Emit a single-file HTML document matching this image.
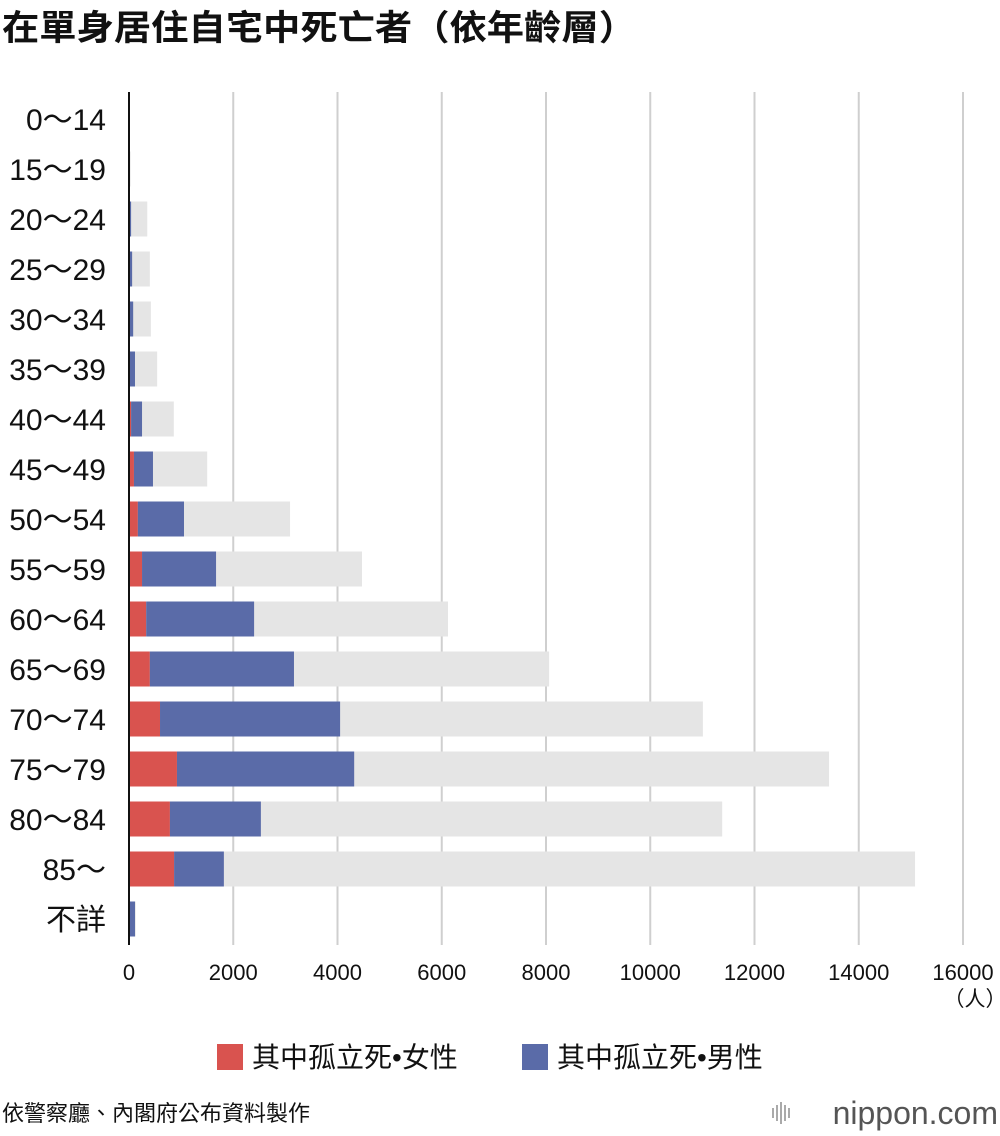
<!DOCTYPE html>
<html><head><meta charset="utf-8">
<style>
body{margin:0;background:#fff;font-family:"Liberation Sans","Noto Sans CJK TC",sans-serif;}
#wrap{position:relative;width:1000px;height:1136px;overflow:hidden;}
</style></head>
<body>
<div id="wrap">
<svg id="chart" width="1000" height="1136"></svg>
</div>
<script>
const categories=["0～14","15～19","20～24","25～29","30～34","35～39","40～44","45～49","50～54","55～59","60～64","65～69","70～74","75～79","80～84","85～","不詳"];
const totalDeaths=[5,30,350,400,420,540,860,1500,3090,4470,6120,8060,11010,13430,11380,15080,130];
const femaleIsolated=[0,2,5,10,10,15,40,95,170,250,330,400,595,920,785,865,5];
const maleIsolated=[2,8,35,50,70,100,210,365,885,1420,2070,2765,3455,3400,1745,955,110];
const ticks=[0,2000,4000,6000,8000,10000,12000,14000,16000];
const NS="http://www.w3.org/2000/svg";
const svg=document.getElementById('chart');
const x0=129,x1=963,vmax=16000;
function xs(v){return x0+v*(x1-x0)/vmax;}
function ys(i){return 119+i*50;}
function mk(tag,attrs,text){const e=document.createElementNS(NS,tag);for(const k in attrs)e.setAttribute(k,attrs[k]);if(text!==undefined)e.textContent=text;svg.appendChild(e);return e;}
const FONT='"Liberation Sans","Noto Sans CJK TC",sans-serif';
let t=mk('text',{x:2,y:40,'font-size':35,'font-weight':'bold','font-family':FONT,fill:'#111','textLength':634,'lengthAdjust':'spacingAndGlyphs'},'在單身居住自宅中死亡者（依年齡層）');


ticks.forEach(v=>{
  if(v>0){const g=mk('line',{x1:xs(v),x2:xs(v),y1:92,y2:945,stroke:'#cfcfcf','stroke-width':2});
  
  }
  const l=mk('text',{x:xs(v),y:980,'font-size':22,'text-anchor':'middle','font-family':FONT,fill:'#111'},String(v));
  
  
});
t=mk('text',{x:975,y:1006,'font-size':21,'text-anchor':'middle','font-family':FONT,fill:'#111'},'（人）');


categories.forEach((c,i)=>{
  const y=ys(i),h=35;
  let r=mk('rect',{x:x0,y:y-h/2,width:xs(totalDeaths[i])-x0,height:h,fill:'#e5e5e5'});
  
  
  r=mk('rect',{x:x0,y:y-h/2,width:xs(femaleIsolated[i])-x0,height:h,fill:'#d9534f'});
  
  
  r=mk('rect',{x:xs(femaleIsolated[i]),y:y-h/2,width:xs(femaleIsolated[i]+maleIsolated[i])-xs(femaleIsolated[i]),height:h,fill:'#5a6ba8'});
  
  
  const l=mk('text',{x:106,y:y+11,'font-size':30,'text-anchor':'end','font-family':FONT,fill:'#111'},c);
  
  
});
let ax=mk('line',{x1:x0,x2:x0,y1:92,y2:945,stroke:'#111','stroke-width':2});


[[217,'#d9534f','其中孤立死•女性'],[522,'#5a6ba8','其中孤立死•男性']].forEach(d=>{
  const r=mk('rect',{x:d[0],y:1044,width:26,height:26,fill:d[1]});
  
  
  const l=mk('text',{x:d[0]+35,y:1067,'font-size':28,'font-family':FONT,fill:'#111'},d[2]);
  
  
});
t=mk('text',{x:2,y:1121,'font-size':22,'font-family':FONT,fill:'#111'},'依警察廳、內閣府公布資料製作');


t=mk('text',{x:998,y:1124,'font-size':32,'text-anchor':'end','font-family':FONT,fill:'#555'},'nippon.com');


for(let k=0;k<5;k++){const b=mk('rect',{x:772+k*4,y:1102+Math.abs(2-k)*3,width:2,height:22-Math.abs(2-k)*6,fill:'#aaa'});

}
</script>
</body></html>
